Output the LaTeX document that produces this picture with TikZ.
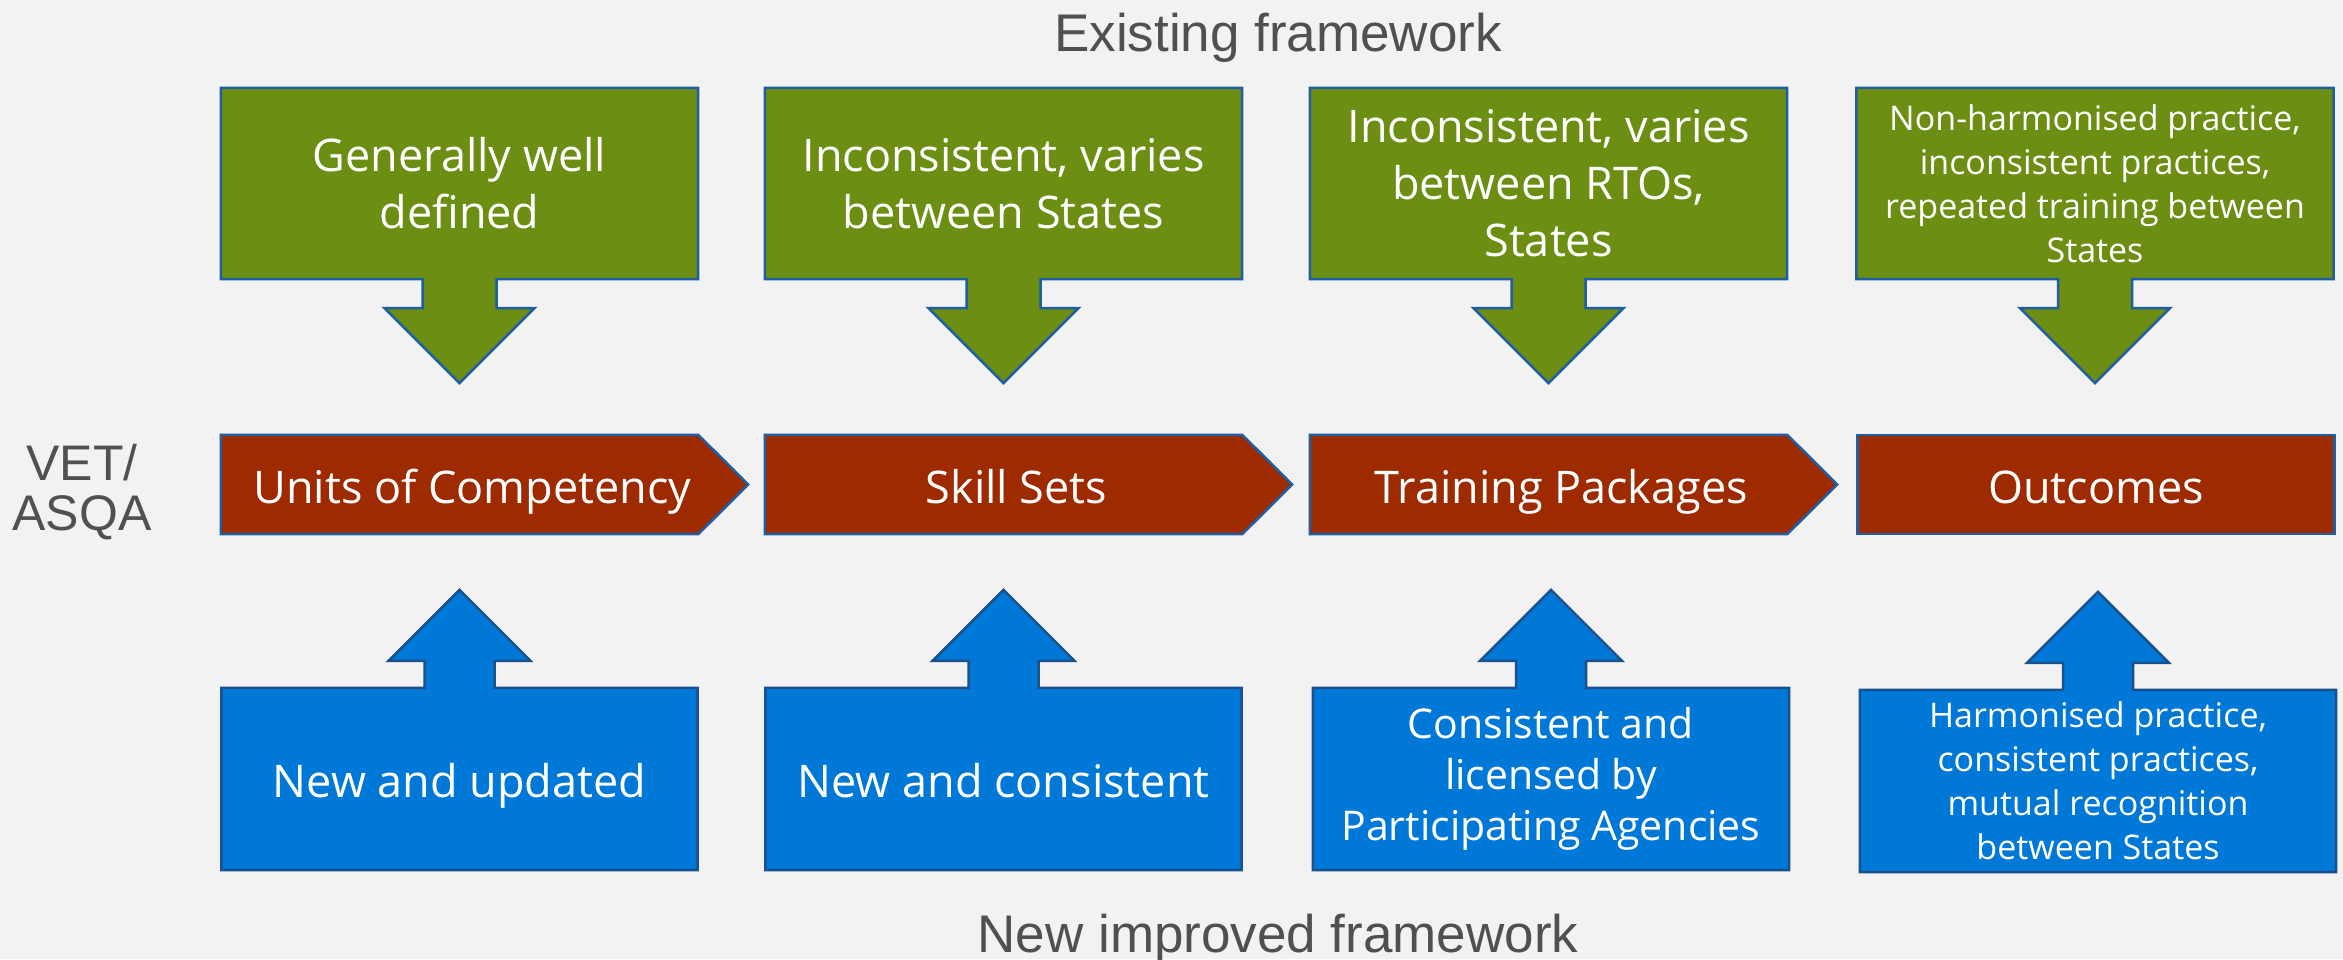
\documentclass[tikz,border=0pt]{standalone}
\usepackage{fontspec}
\setmainfont{Open Sans}
\newfontfamily\arialfont{Liberation Sans}
\usepackage{tikz}
\usetikzlibrary{backgrounds}

\definecolor{bggray}{HTML}{F2F2F2}
\definecolor{txtgray}{HTML}{505050}
\definecolor{oldgreen}{HTML}{6B8E13}
\definecolor{vetred}{HTML}{9E2A00}
\definecolor{newblue}{HTML}{0078D7}
\definecolor{edgeblue}{HTML}{1F5EA3}

\tikzset{
  boxtext/.style={inner sep=0pt, align=center, text=white, font=\fontsize{45}{57}\selectfont},
  oneline/.style={text height=47pt, text depth=10pt},
  exist/.style={boxtext, minimum width=477pt, minimum height=191pt},
  stage/.style={boxtext, oneline, minimum width=477pt, minimum height=99pt},
  newfw/.style={boxtext, minimum width=476pt, minimum height=182pt},
  smalltext/.style={font=\fontsize{34}{44}\selectfont},
  heading/.style={text=txtgray, inner sep=0pt, font=\arialfont\fontsize{53}{60}\selectfont},
  greenshape/.style={fill=oldgreen, draw=edgeblue, line width=2.5pt},
  redshape/.style={fill=vetred, draw=edgeblue, line width=2.5pt},
  blueshape/.style={fill=newblue, draw=edgeblue!85!black, line width=2.5pt}
}

\begin{document}
\begin{tikzpicture}[x=1pt,y=-1pt]
\useasboundingbox (0,0) rectangle (2343,959);

\node[heading, anchor=base] (existing) at (1278,51) {Existing framework};
\node[heading, anchor=base] (improved) at (1278,952) {New improved framework};
\node[heading, align=center, font=\arialfont\fontsize{50}{50}\selectfont] (vet) at (82,492) {VET/\\ASQA};

\node[exist] (ex1) at (459.5,183.5) {Generally well\\defined};
\node[exist] (ex2) at (1003.5,183.5) {Inconsistent, varies\\between States};
\node[exist] (ex3) at (1548.5,183.5) {Inconsistent, varies\\between RTOs,\\States};
\node[exist, smalltext] (ex4) at (2095,183.5) {Non-harmonised practice,\\inconsistent practices,\\repeated training between\\States};

\node[stage] (uc) at (459.5,484.5) {\hspace*{26pt}Units of Competency};
\node[stage] (ss) at (1003.5,484.5) {\hspace*{26pt}Skill Sets};
\node[stage] (tp) at (1548.5,484.5) {\hspace*{26pt}Training Packages};
\node[stage] (oc) at (2096,484.5) {Outcomes};

\node[newfw, oneline] (nw1) at (459.5,779) {New and updated};
\node[newfw, oneline] (nw2) at (1003.5,779) {New and consistent};
\node[newfw, font=\fontsize{41}{51}\selectfont] (nw3) at (1551,779) {Consistent and\\licensed by\\Participating Agencies};
\node[newfw, smalltext] (nw4) at (2098,781) {Harmonised practice,\\consistent practices,\\mutual recognition\\between States};

\begin{scope}[on background layer]
\fill[bggray] (0,0) rectangle (2343,959);

\foreach \n in {ex1,ex2,ex3,ex4}
  \filldraw[greenshape] (\n.north west) -- (\n.north east) -- (\n.south east)
    -- ([xshift=37pt]\n.south) -- ++(0,29) -- ++(38,0) -- ++(-75,75)
    -- ++(-75,-75) -- ++(38,0) -- ++(0,-29) -- (\n.south west) -- cycle;

\foreach \n in {uc,ss,tp}
  \filldraw[redshape] (\n.north west) -- (\n.north east) -- ([xshift=50pt]\n.east)
    -- (\n.south east) -- (\n.south west) -- cycle;
\filldraw[redshape] (oc.north west) rectangle (oc.south east);

\foreach \n in {nw1,nw2,nw3,nw4}
  \filldraw[blueshape] (\n.south west) -- (\n.north west) -- ([xshift=-35pt]\n.north)
    -- ++(0,-27) -- ++(-36,0) -- ++(71,-71) -- ++(71,71) -- ++(-36,0)
    -- ++(0,27) -- (\n.north east) -- (\n.south east) -- cycle;
\end{scope}

\end{tikzpicture}
\end{document}
